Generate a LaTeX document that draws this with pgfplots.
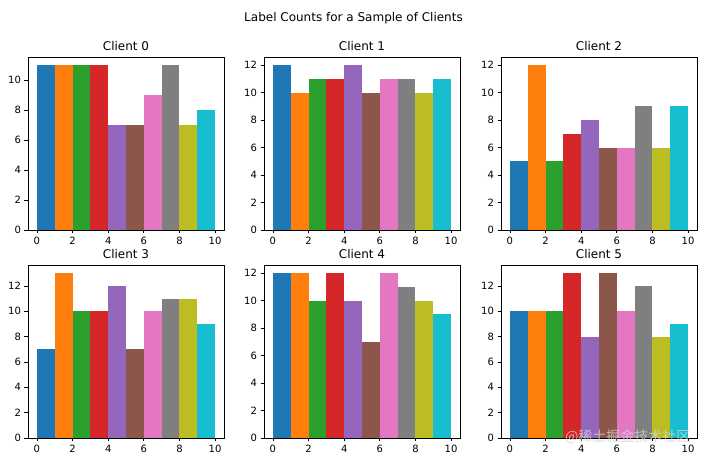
\documentclass[border=0pt]{standalone}
\usepackage{fontspec}
\setmainfont{DejaVu Sans}
\newfontfamily\cjk{Noto Sans CJK SC}
\usepackage{pgfplots}
\pgfplotsset{compat=1.18}

% matplotlib tab10
\definecolor{c0}{HTML}{1F77B4}
\definecolor{c1}{HTML}{FF7F0E}
\definecolor{c2}{HTML}{2CA02C}
\definecolor{c3}{HTML}{D62728}
\definecolor{c4}{HTML}{9467BD}
\definecolor{c5}{HTML}{8C564B}
\definecolor{c6}{HTML}{E377C2}
\definecolor{c7}{HTML}{7F7F7F}
\definecolor{c8}{HTML}{BCBD22}
\definecolor{c9}{HTML}{17BECF}

\pgfplotsset{
  client/.style={
    scale only axis, width=196pt, height=173pt,
    anchor=south west,
    xmin=-0.5, xmax=10.5, ymin=0,
    xtick={0,2,...,10}, ytick distance=2,
    tick align=outside, tick pos=left, major tick length=3.5pt,
    axis line style={line width=0.8pt},
    every tick/.style={black, line width=0.8pt},
    ticklabel style={font=\fontsize{10}{12}\selectfont},
    /pgf/number format/assume math mode=true,
    title style={font=\fontsize{12}{14}\selectfont, at={(0.5,1)}, anchor=base, inner sep=0pt},
  },
  b/.style={ybar interval, fill=#1, draw=none},
}

\begin{document}
\begin{tikzpicture}
\path[use as bounding box] (0,0) rectangle (707pt,462pt);

\node[anchor=north, font=\fontsize{12}{14}\selectfont] at (353.5pt,453pt) {Label Counts for a Sample of Clients};

% Client 0
\begin{axis}[client, at={(28pt,232pt)}, ymax=11.55, title={Client 0}]
  \addplot[b=c0] coordinates {(0,11) (1,11)};
  \addplot[b=c1] coordinates {(1,11) (2,11)};
  \addplot[b=c2] coordinates {(2,11) (3,11)};
  \addplot[b=c3] coordinates {(3,11) (4,11)};
  \addplot[b=c4] coordinates {(4,7) (5,7)};
  \addplot[b=c5] coordinates {(5,7) (6,7)};
  \addplot[b=c6] coordinates {(6,9) (7,9)};
  \addplot[b=c7] coordinates {(7,11) (8,11)};
  \addplot[b=c8] coordinates {(8,7) (9,7)};
  \addplot[b=c9] coordinates {(9,8) (10,8)};
\end{axis}

% Client 1
\begin{axis}[client, at={(264pt,232pt)}, ymax=12.6, title={Client 1}]
  \addplot[b=c0] coordinates {(0,12) (1,12)};
  \addplot[b=c1] coordinates {(1,10) (2,10)};
  \addplot[b=c2] coordinates {(2,11) (3,11)};
  \addplot[b=c3] coordinates {(3,11) (4,11)};
  \addplot[b=c4] coordinates {(4,12) (5,12)};
  \addplot[b=c5] coordinates {(5,10) (6,10)};
  \addplot[b=c6] coordinates {(6,11) (7,11)};
  \addplot[b=c7] coordinates {(7,11) (8,11)};
  \addplot[b=c8] coordinates {(8,10) (9,10)};
  \addplot[b=c9] coordinates {(9,11) (10,11)};
\end{axis}

% Client 2
\begin{axis}[client, at={(501pt,232pt)}, ymax=12.6, title={Client 2}]
  \addplot[b=c0] coordinates {(0,5) (1,5)};
  \addplot[b=c1] coordinates {(1,12) (2,12)};
  \addplot[b=c2] coordinates {(2,5) (3,5)};
  \addplot[b=c3] coordinates {(3,7) (4,7)};
  \addplot[b=c4] coordinates {(4,8) (5,8)};
  \addplot[b=c5] coordinates {(5,6) (6,6)};
  \addplot[b=c6] coordinates {(6,6) (7,6)};
  \addplot[b=c7] coordinates {(7,9) (8,9)};
  \addplot[b=c8] coordinates {(8,6) (9,6)};
  \addplot[b=c9] coordinates {(9,9) (10,9)};
\end{axis}

% Client 3
\begin{axis}[client, at={(28pt,24pt)}, ymax=13.65, title={Client 3}]
  \addplot[b=c0] coordinates {(0,7) (1,7)};
  \addplot[b=c1] coordinates {(1,13) (2,13)};
  \addplot[b=c2] coordinates {(2,10) (3,10)};
  \addplot[b=c3] coordinates {(3,10) (4,10)};
  \addplot[b=c4] coordinates {(4,12) (5,12)};
  \addplot[b=c5] coordinates {(5,7) (6,7)};
  \addplot[b=c6] coordinates {(6,10) (7,10)};
  \addplot[b=c7] coordinates {(7,11) (8,11)};
  \addplot[b=c8] coordinates {(8,11) (9,11)};
  \addplot[b=c9] coordinates {(9,9) (10,9)};
\end{axis}

% Client 4
\begin{axis}[client, at={(264pt,24pt)}, ymax=12.6, title={Client 4}]
  \addplot[b=c0] coordinates {(0,12) (1,12)};
  \addplot[b=c1] coordinates {(1,12) (2,12)};
  \addplot[b=c2] coordinates {(2,10) (3,10)};
  \addplot[b=c3] coordinates {(3,12) (4,12)};
  \addplot[b=c4] coordinates {(4,10) (5,10)};
  \addplot[b=c5] coordinates {(5,7) (6,7)};
  \addplot[b=c6] coordinates {(6,12) (7,12)};
  \addplot[b=c7] coordinates {(7,11) (8,11)};
  \addplot[b=c8] coordinates {(8,10) (9,10)};
  \addplot[b=c9] coordinates {(9,9) (10,9)};
\end{axis}

% Client 5
\begin{axis}[client, at={(501pt,24pt)}, ymax=13.65, title={Client 5}]
  \addplot[b=c0] coordinates {(0,10) (1,10)};
  \addplot[b=c1] coordinates {(1,10) (2,10)};
  \addplot[b=c2] coordinates {(2,10) (3,10)};
  \addplot[b=c3] coordinates {(3,13) (4,13)};
  \addplot[b=c4] coordinates {(4,8) (5,8)};
  \addplot[b=c5] coordinates {(5,13) (6,13)};
  \addplot[b=c6] coordinates {(6,10) (7,10)};
  \addplot[b=c7] coordinates {(7,12) (8,12)};
  \addplot[b=c8] coordinates {(8,8) (9,8)};
  \addplot[b=c9] coordinates {(9,9) (10,9)};
\end{axis}

% site watermark
\node[anchor=east, font=\cjk\fontsize{14}{16}\selectfont, text=gray!35, opacity=0.8] at (694pt,25pt) {@稀土掘金技术社区};
\end{tikzpicture}
\end{document}
